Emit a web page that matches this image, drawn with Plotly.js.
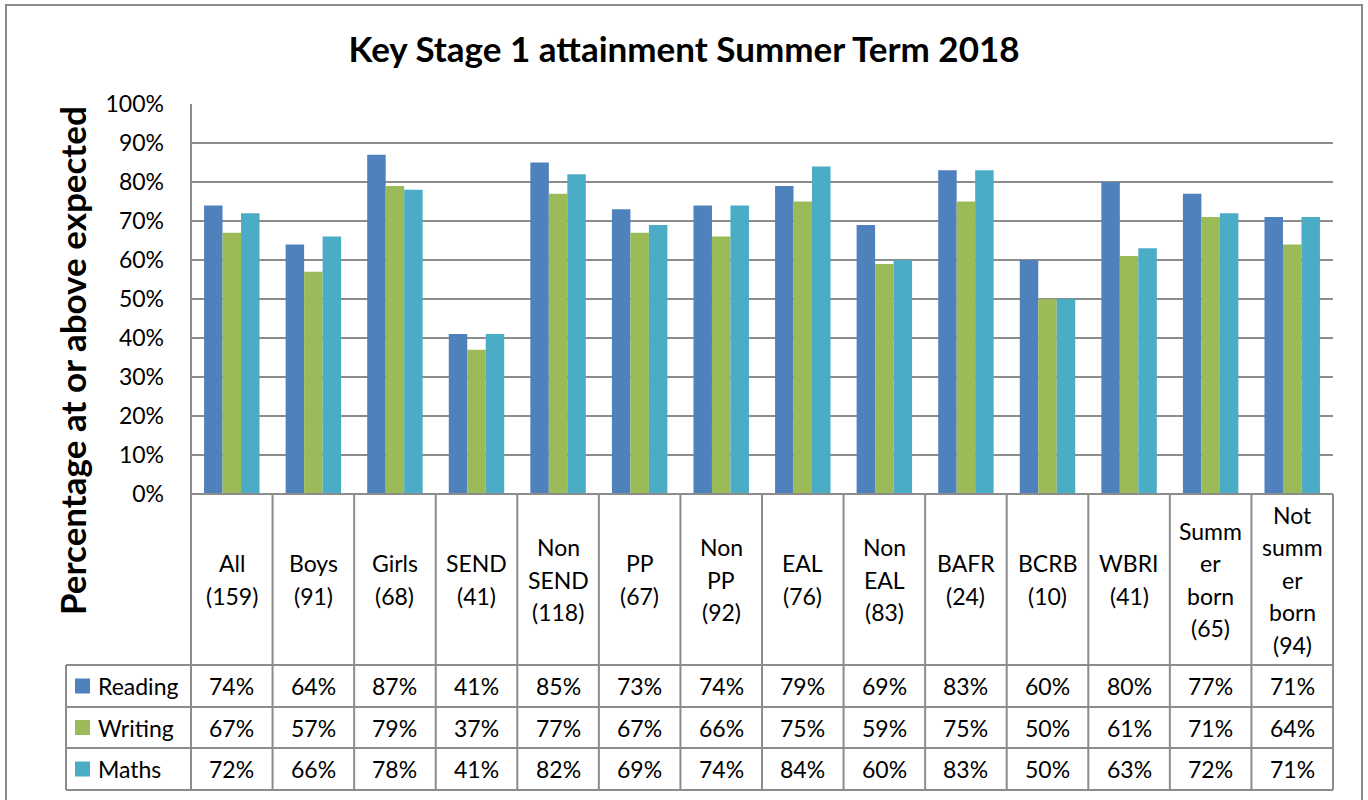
<!DOCTYPE html>
<html>
<head>
<meta charset="utf-8">
<script src="https://cdn.plot.ly/plotly-3.0.1.min.js"></script>
<style>html,body{margin:0;padding:0;background:#fff;}#chart{width:1368px;height:800px;}</style>
</head>
<body>
<div id="chart"></div>
<script>
// ---- Data ----
const categories = ["All (159)", "Boys (91)", "Girls (68)", "SEND (41)", "Non SEND (118)", "PP (67)", "Non PP (92)", "EAL (76)", "Non EAL (83)", "BAFR (24)", "BCRB (10)", "WBRI (41)", "Summer born (65)", "Not summer born (94)"];
const headerLabels = ["All\n(159)", "Boys\n(91)", "Girls\n(68)", "SEND\n(41)", "Non\nSEND\n(118)", "PP\n(67)", "Non\nPP\n(92)", "EAL\n(76)", "Non\nEAL\n(83)", "BAFR\n(24)", "BCRB\n(10)", "WBRI\n(41)", "Summ\ner\nborn\n(65)", "Not\nsumm\ner\nborn\n(94)"];
const seriesNames = ["Reading", "Writing", "Maths"];
const reading = [74, 64, 87, 41, 85, 73, 74, 79, 69, 83, 60, 80, 77, 71];
const writing = [67, 57, 79, 37, 77, 67, 66, 75, 59, 75, 50, 61, 71, 64];
const maths   = [72, 66, 78, 41, 82, 69, 74, 84, 60, 83, 50, 63, 72, 71];
const yTickVals = [0, 0.1, 0.2, 0.3, 0.4, 0.5, 0.6, 0.7, 0.8, 0.9, 1.0];
const titleText = "Key Stage 1 attainment Summer Term 2018";
const yTitleText = "Percentage at or above expected";

// ---- Styling / geometry ----
const colors = ["#4F81BD", "#9BBB59", "#4BACC6"];
const FONT = "Lato, 'Open Sans', sans-serif";
const TXT = 23;
const W = 1368, H = 800;
const PL = 191, PR = 1333, PT = 104, PB = 494;
const pw = PR - PL, ph = PB - PT;
const px = x => (x - PL) / pw;         // pixel -> paper x
const py = y => (PB - y) / ph;         // pixel -> paper y
const gridCol = "#8c8c8c";
const n = categories.length;
const colW = 1 / n;
const rowLines = [665, 707, 748, 790];
const legendLeft = 66;
const values = [reading, writing, maths];

const traces = values.map((v, i) => ({
  type: "bar",
  name: seriesNames[i],
  x: categories,
  y: v.map(d => d / 100),
  marker: { color: colors[i], line: { width: 0 } },
  hoverinfo: "skip",
  showlegend: false
}));

const shapes = [];
const annotations = [];
// outer chart border
shapes.push({ type: "rect", xref: "paper", yref: "paper", x0: px(6), x1: px(1362), y0: py(812), y1: py(5),
  line: { color: "#8a8a8a", width: 2 }, fillcolor: "rgba(0,0,0,0)", layer: "below" });
// table horizontal lines
shapes.push({ type: "line", xref: "paper", yref: "paper", x0: 0, x1: 1, y0: 0, y1: 0, line: { color: gridCol, width: 2 } });
rowLines.forEach(r => shapes.push({ type: "line", xref: "paper", yref: "paper", x0: px(legendLeft), x1: 1, y0: py(r), y1: py(r), line: { color: gridCol, width: 2 } }));
// table vertical lines
for (let k = 0; k <= n; k++) {
  shapes.push({ type: "line", xref: "paper", yref: "paper", x0: k * colW, x1: k * colW, y0: py(rowLines[rowLines.length - 1]), y1: k === 0 ? 1 : 0, line: { color: gridCol, width: 2 } });
}
shapes.push({ type: "line", xref: "paper", yref: "paper", x0: px(legendLeft), x1: px(legendLeft), y0: py(rowLines[0]), y1: py(rowLines[rowLines.length - 1]), line: { color: gridCol, width: 2 } });

// header labels
const hdrCenter = (PB + rowLines[0]) / 2;
const lineGap = 32.5;
headerLabels.forEach((lab, k) => {
  const lines = lab.split("\n");
  lines.forEach((ln, i) => {
    const yy = hdrCenter + (i - (lines.length - 1) / 2) * lineGap;
    annotations.push({ xref: "paper", yref: "paper", x: (k + 0.5) * colW, y: py(yy), text: ln, showarrow: false,
      xanchor: "center", yanchor: "middle", font: { family: FONT, size: TXT, color: "#000" } });
  });
});
// data rows + legend keys
values.forEach((v, r) => {
  const yc = (rowLines[r] + rowLines[r + 1]) / 2;
  v.forEach((d, k) => {
    annotations.push({ xref: "paper", yref: "paper", x: (k + 0.5) * colW, y: py(yc), text: d + "%", showarrow: false,
      xanchor: "center", yanchor: "middle", font: { family: FONT, size: TXT, color: "#000" } });
  });
  shapes.push({ type: "rect", xref: "paper", yref: "paper", x0: px(75), x1: px(90), y0: py(yc + 7.5), y1: py(yc - 7.5),
    fillcolor: colors[r], line: { width: 0 } });
  annotations.push({ xref: "paper", yref: "paper", x: px(96), y: py(yc), text: seriesNames[r], showarrow: false,
    xanchor: "left", yanchor: "middle", font: { family: FONT, size: TXT, color: "#000" } });
});
// y axis title
annotations.push({ xref: "paper", yref: "paper", x: px(72), y: py(361), text: "<b>" + yTitleText + "</b>", textangle: -90,
  showarrow: false, xanchor: "center", yanchor: "middle", font: { family: FONT, size: 35, color: "#000" } });

const layout = {
  width: W, height: H,
  margin: { l: PL, r: W - PR, t: PT, b: H - PB, pad: 0 },
  paper_bgcolor: "#fff", plot_bgcolor: "#fff",
  title: { text: "<b>" + titleText + "</b>", x: 684 / W, xref: "container", xanchor: "center", y: 1 - 50 / H, yanchor: "middle",
    font: { family: FONT, size: 35, color: "#000" } },
  barmode: "group", bargap: 0.32, bargroupgap: 0,
  xaxis: { type: "category", showticklabels: false, showgrid: false, zeroline: false, showline: false, ticks: "", fixedrange: true },
  yaxis: { range: [0, 1], tickvals: yTickVals, tickformat: ".0%", showgrid: true, gridcolor: gridCol, gridwidth: 2,
    zeroline: false, showline: false, ticks: "", ticklabelstandoff: 26,
    tickfont: { family: FONT, size: TXT, color: "#000" }, fixedrange: true },
  shapes: shapes,
  annotations: annotations,
  showlegend: false,
  font: { family: FONT }
};

Plotly.newPlot("chart", traces, layout, { displayModeBar: false, staticPlot: true });
</script>
</body>
</html>
